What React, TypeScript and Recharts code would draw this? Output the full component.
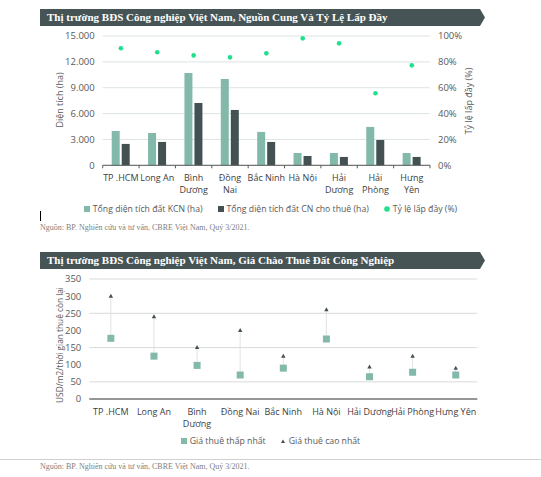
import { Bar, CartesianGrid, ComposedChart, Legend, Line, XAxis, YAxis } from 'recharts'

const categories = ['TP.HCM', 'Long An', 'Bình Dương', 'Đồng Nai', 'Bắc Ninh', 'Hà Nội', 'Hải Dương', 'Hải Phòng', 'Hưng Yên']
const supplyTickLabels = [['TP .HCM'], ['Long An'], ['Bình', 'Dương'], ['Đồng', 'Nai'], ['Bắc Ninh'], ['Hà Nội'], ['Hải', 'Dương'], ['Hải', 'Phòng'], ['Hưng', 'Yên']]
const rentTickLabels = [['TP .HCM'], ['Long An'], ['Bình', 'Dương'], ['Đồng Nai'], ['Bắc Ninh'], ['Hà Nội'], ['Hải Dương'], ['Hải Phòng'], ['Hưng Yên']]

// ha
const totalArea = [3980, 3750, 10710, 10020, 3870, 1430, 1430, 4450, 1430]
const leasedArea = [2480, 2710, 7230, 6420, 2710, 1080, 970, 2940, 970]
// %
const occupancy = [90.5, 87.4, 85, 83.5, 86.6, 98.2, 94.3, 55.7, 77.3]
// USD/m2/remaining lease term
const minRent = [177, 125, 98, 70, 90, 175, 65, 78, 70]
const maxRent = [300, 240, 150, 200, 125, 260, 93, 125, 90]

const areaTicks = [0, 3000, 6000, 9000, 12000, 15000]
const pctTicks = [0, 20, 40, 60, 80, 100]
const rentTicks = [0, 50, 100, 150, 200, 250, 300, 350]

const TEAL = '#82b9aa'
const DARK = '#435153'
const GREEN = '#1fe08d'
const HEADER = '#465456'
const TEXT = '#595959'
const FONT = '"Open Sans", sans-serif'

const supplyData = categories.map((name, i) => ({
  name,
  total: totalArea[i],
  leased: leasedArea[i],
  occupancy: occupancy[i],
}))

const rentData = categories.map((name, i) => ({
  name,
  min: minRent[i],
  max: maxRent[i],
  range: [minRent[i], maxRent[i]],
}))

const fmtThousands = (v: number) => (v === 0 ? '0' : v.toLocaleString('de-DE'))

function CategoryTick(props: any) {
  const { x, y, payload, index, labels, band, marks, count } = props
  const lines: string[] = labels[index] ?? [payload.value]
  return (
    <g>
      {marks && <line x1={x - band / 2} x2={x - band / 2} y1={y} y2={y + 3} stroke={TEXT} />}
      {marks && index === count - 1 && (
        <line x1={x + band / 2} x2={x + band / 2} y1={y} y2={y + 3} stroke={TEXT} />
      )}
      <text x={x} y={y} textAnchor="middle" fill="#404040" fontSize={9} fontFamily={FONT}>
        {lines.map((l, i) => (
          <tspan key={i} x={x} dy={i === 0 ? 16 : 12}>
            {l}
          </tspan>
        ))}
      </text>
    </g>
  )
}

function Header({ top, text }: { top: number; text: string }) {
  return (
    <div style={{ position: 'absolute', left: 40, top, width: 446, height: 17 }}>
      <svg width={446} height={17} style={{ position: 'absolute', left: 0, top: 0 }}>
        <polygon points="0,0 440,0 445,8.5 440,17 0,17" fill={HEADER} />
      </svg>
      <div
        style={{
          position: 'relative',
          paddingLeft: 7,
          lineHeight: '17px',
          fontFamily: '"Liberation Serif", serif',
          fontWeight: 'bold',
          fontSize: 11,
          color: '#fff',
          whiteSpace: 'nowrap',
        }}
      >
        {text}
      </div>
    </div>
  )
}

function AxisTitle({ x, y, text, size }: { x: number; y: number; text: string; size: number }) {
  return (
    <div
      style={{
        position: 'absolute',
        left: x,
        top: y,
        transform: 'translate(-50%, -50%) rotate(-90deg)',
        whiteSpace: 'nowrap',
        fontFamily: FONT,
        fontSize: size,
        color: TEXT,
      }}
    >
      {text}
    </div>
  )
}

function Source({ top }: { top: number }) {
  return (
    <div
      style={{
        position: 'absolute',
        left: 40,
        top,
        fontFamily: '"Liberation Serif", serif',
        fontSize: 8,
        color: '#808080',
        whiteSpace: 'nowrap',
      }}
    >
      Nguồn: BP. Nghiên cứu và tư vấn, CBRE Việt Nam, Quý 3/2021.
    </div>
  )
}

type LegendItem = { label: string; color: string; shape: 'square' | 'circle' | 'triangle' }

function LegendRow({ items, gap }: { items: LegendItem[]; gap: number }) {
  return (
    <div style={{ display: 'flex', justifyContent: 'center', gap, fontFamily: FONT, fontSize: 8.7, color: TEXT }}>
      {items.map((it) => (
        <div key={it.label} style={{ display: 'flex', alignItems: 'center', gap: 3 }}>
          <svg width={6} height={6}>
            {it.shape === 'square' && <rect width={6} height={6} fill={it.color} />}
            {it.shape === 'circle' && <circle cx={3} cy={3} r={2.8} fill={it.color} />}
            {it.shape === 'triangle' && <path d="M3,1.5 L5,5 L1,5 Z" fill={it.color} />}
          </svg>
          <span>{it.label}</span>
        </div>
      ))}
    </div>
  )
}

const supplyLegend: LegendItem[] = [
  { label: 'Tổng diện tích đất KCN (ha)', color: TEAL, shape: 'square' },
  { label: 'Tổng diện tích đất CN cho thuê (ha)', color: DARK, shape: 'square' },
  { label: 'Tỷ lệ lấp đầy (%)', color: GREEN, shape: 'circle' },
]

const rentLegend: LegendItem[] = [
  { label: 'Giá thuê thấp nhất', color: TEAL, shape: 'square' },
  { label: 'Giá thuê cao nhất', color: DARK, shape: 'triangle' },
]

function SupplyChart() {
  const band = (430 - 102.7) / categories.length
  return (
    <ComposedChart
      width={541}
      height={230}
      data={supplyData}
      margin={{ top: 36, right: 0, bottom: 34.7, left: 0 }}
      barGap={2}
    >
      <CartesianGrid yAxisId="left" vertical={false} stroke="#dde4e4" />
      <XAxis
        dataKey="name"
        axisLine={{ stroke: TEXT }}
        tickLine={false}
        tickSize={0}
        tickMargin={0}
        height={30}
        interval={0}
        tick={(p: any) => (
          <CategoryTick {...p} labels={supplyTickLabels} band={band} marks count={categories.length} />
        )}
      />
      <YAxis
        yAxisId="left"
        width={102.7}
        domain={[0, 15000]}
        ticks={areaTicks}
        tickFormatter={fmtThousands}
        axisLine={false}
        tickLine={false}
        tick={{ fill: TEXT, fontSize: 9.5, fontFamily: FONT }}
      />
      <YAxis
        yAxisId="right"
        orientation="right"
        width={111}
        domain={[0, 100]}
        ticks={pctTicks}
        tickFormatter={(v) => `${v}%`}
        axisLine={false}
        tickLine={false}
        tick={{ fill: TEXT, fontSize: 9.5, fontFamily: FONT, textAnchor: 'start' }}
      />
      <Legend
        layout="horizontal"
        verticalAlign="middle"
        align="center"
        wrapperStyle={{ top: 203, left: 0, width: 541 }}
        content={() => <LegendRow items={supplyLegend} gap={15} />}
      />
      <Bar yAxisId="left" dataKey="total" barSize={8} fill={TEAL} isAnimationActive={false} />
      <Bar yAxisId="left" dataKey="leased" barSize={8} fill={DARK} isAnimationActive={false} />
      <Line
        yAxisId="right"
        dataKey="occupancy"
        stroke="none"
        dot={{ r: 2.3, fill: GREEN, stroke: 'none' }}
        activeDot={false}
        isAnimationActive={false}
      />
    </ComposedChart>
  )
}

function RentChart() {
  return (
    <ComposedChart
      width={541}
      height={200}
      data={rentData}
      margin={{ top: 19, right: 63.7, bottom: 31, left: 0 }}
    >
      <CartesianGrid vertical={false} stroke="#d9d9d9" />
      <XAxis
        dataKey="name"
        axisLine={{ stroke: '#404040' }}
        tickLine={false}
        tickSize={0}
        tickMargin={0}
        height={30}
        interval={0}
        tick={(p: any) => <CategoryTick {...p} labels={rentTickLabels} band={0} count={categories.length} />}
      />
      <YAxis
        width={89.3}
        domain={[0, 350]}
        ticks={rentTicks}
        axisLine={false}
        tickLine={false}
        tick={{ fill: TEXT, fontSize: 9.5, fontFamily: FONT }}
      />
      <Legend
        layout="horizontal"
        verticalAlign="middle"
        align="center"
        wrapperStyle={{ top: 175, left: 0, width: 541 }}
        content={() => <LegendRow items={rentLegend} gap={14} />}
      />
      <Bar dataKey="range" barSize={1} fill="#e2e2e2" isAnimationActive={false} legendType="none" />
      <Line
        dataKey="min"
        stroke="none"
        activeDot={false}
        isAnimationActive={false}
        dot={(p: any) => (
          <rect key={`min-${p.index}`} x={p.cx - 3.5} y={p.cy - 3.5} width={7} height={7} fill={TEAL} />
        )}
      />
      <Line
        dataKey="max"
        stroke="none"
        activeDot={false}
        isAnimationActive={false}
        dot={(p: any) => (
          <path
            key={`max-${p.index}`}
            d={`M${p.cx},${p.cy - 2.5} L${p.cx + 2.2},${p.cy + 1.5} L${p.cx - 2.2},${p.cy + 1.5} Z`}
            fill={DARK}
          />
        )}
      />
    </ComposedChart>
  )
}

export default function App() {
  return (
    <div style={{ position: 'relative', width: 541, height: 477, background: '#fff', overflow: 'hidden' }}>
      <style>{'body{margin:0}'}</style>
      <Header top={9} text="Thị trường BĐS Công nghiệp Việt Nam, Nguồn Cung Và Tỷ Lệ Lấp Đầy" />
      <div style={{ position: 'absolute', left: 0, top: 0 }}>
        <SupplyChart />
      </div>
      <AxisTitle x={59} y={100} size={9} text="Diện tích (ha)" />
      <AxisTitle x={468} y={101} size={9} text="Tỷ lệ lấp đầy (%)" />
      <div style={{ position: 'absolute', left: 40, top: 211, width: 1, height: 10, background: '#000' }} />
      <Source top={223} />

      <Header top={252} text="Thị trường BĐS Công nghiệp Việt Nam, Giá Chào Thuê Đất Công Nghiệp" />
      <div style={{ position: 'absolute', left: 0, top: 260 }}>
        <RentChart />
      </div>
      <AxisTitle x={59} y={345} size={8.3} text="USD/m2/thời gian thuê còn lại" />
      <div style={{ position: 'absolute', left: 0, top: 459, width: 541, height: 1, background: '#d0d0d0' }} />
      <Source top={462} />
    </div>
  )
}
